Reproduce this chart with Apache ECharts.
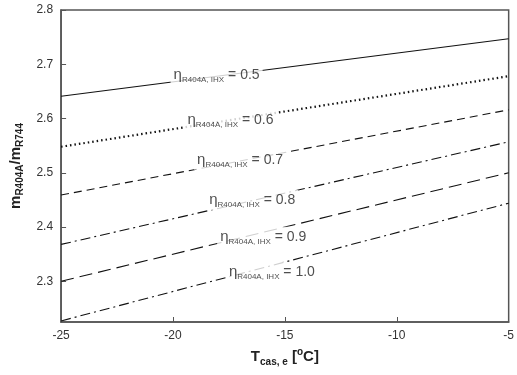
<!DOCTYPE html>
<html>
<head>
<meta charset="utf-8">
<script src="https://cdn.jsdelivr.net/npm/echarts@6/dist/echarts.min.js"></script>
<style>
  html, body { margin: 0; padding: 0; background: #fff; }
  #chart { width: 517px; height: 375px; }
</style>
</head>
<body>
<div id="chart"></div>
<script>
// temperature points (x) and mass-ratio values for each effectiveness
const temps = [-25, -5];
const etaNames = ['0.5', '0.6', '0.7', '0.8', '0.9', '1.0'];
const eta05 = [2.641, 2.747];
const eta06 = [2.548, 2.678];
const eta07 = [2.459, 2.616];
const eta08 = [2.368, 2.557];
const eta09 = [2.300, 2.500];
const eta10 = [2.227, 2.444];
// where the curve labels sit (data coords)
const labelX = [-18.05, -17.43, -17.0, -16.46, -15.97, -15.58];
const labelY = [2.680, 2.597, 2.524, 2.450, 2.382, 2.317];
const yTicks = [2.3, 2.4, 2.5, 2.6, 2.7, 2.8];

const dashes = ['solid', [1.5, 3], [8, 5], [10, 4, 2, 4], [13, 6], [10, 4, 2, 4]];
const widths = [1.1, 2.2, 1.1, 1.1, 1.1, 1.1];
const allVals = [eta05, eta06, eta07, eta08, eta09, eta10];

let chartDom = document.getElementById('chart');
let myChart = echarts.init(chartDom);

const series = allVals.map((vals, i) => ({
  name: etaNames[i],
  type: 'line',
  symbol: 'none',
  silent: true,
  data: vals.map((v, k) => [temps[k], v]),
  lineStyle: { color: '#111', width: widths[i], type: dashes[i] }
}));

series.push({
  type: 'scatter',
  symbolSize: 0,
  z: 10,
  silent: true,
  data: etaNames.map((n, i) => [labelX[i], labelY[i], n]),
  label: {
    show: true,
    position: 'inside',
    backgroundColor: '#fff',
    padding: [1, 3],
    formatter: p => '{e|η}{s|R404A, IHX}{n| = ' + p.value[2] + '}',
    rich: {
      e: { fontSize: 15, lineHeight: 18, color: '#222', fontFamily: 'Liberation Sans' },
      s: { fontSize: 8, lineHeight: 9, verticalAlign: 'bottom', color: '#222', fontFamily: 'Liberation Sans' },
      n: { fontSize: 14, lineHeight: 18, color: '#222', fontFamily: 'Liberation Sans' }
    }
  }
});

const option = {
  animation: false,
  backgroundColor: '#fff',
  grid: {
    left: 60, right: 5, top: 10, bottom: 53,
    show: true, borderColor: '#555', borderWidth: 1.5
  },
  xAxis: {
    type: 'value',
    min: -25, max: -5, interval: 5,
    splitLine: { show: false },
    axisLine: { lineStyle: { color: '#555', width: 1.5 } },
    axisTick: { inside: true, length: 5, lineStyle: { color: '#555' } },
    axisLabel: { color: '#333', fontSize: 12, fontFamily: 'Liberation Sans', margin: 8 },
    name: '{b|T}{s|cas, e}{b| [}{o|o}{b|C]}',
    nameLocation: 'middle',
    nameGap: 17,
    nameTextStyle: {
      rich: {
        b: { fontSize: 15, fontWeight: 'bold', lineHeight: 20, color: '#222', fontFamily: 'Liberation Sans' },
        s: { fontSize: 10, fontWeight: 'bold', lineHeight: 11, verticalAlign: 'bottom', color: '#222', fontFamily: 'Liberation Sans' },
        o: { fontSize: 10, fontWeight: 'bold', lineHeight: 12, verticalAlign: 'top', color: '#222', fontFamily: 'Liberation Sans' }
      }
    }
  },
  yAxis: {
    type: 'value',
    min: 2.225, max: 2.8,
    splitLine: { show: false },
    axisLine: { lineStyle: { color: '#555', width: 1.5 } },
    axisTick: { inside: true, length: 5, customValues: yTicks, lineStyle: { color: '#555' } },
    axisLabel: {
      color: '#333', fontSize: 12, fontFamily: 'Liberation Sans', margin: 8,
      customValues: yTicks,
      formatter: v => v.toFixed(1)
    },
    name: '{b|m}{s|R404A}{b|/m}{s|R744}',
    nameLocation: 'middle',
    nameRotate: 90,
    nameGap: 25,
    nameTextStyle: {
      rich: {
        b: { fontSize: 15, fontWeight: 'bold', lineHeight: 20, color: '#222', fontFamily: 'Liberation Sans' },
        s: { fontSize: 10, fontWeight: 'bold', lineHeight: 11, verticalAlign: 'bottom', color: '#222', fontFamily: 'Liberation Sans' }
      }
    }
  },
  series: series
};

myChart.setOption(option);
</script>
</body>
</html>
